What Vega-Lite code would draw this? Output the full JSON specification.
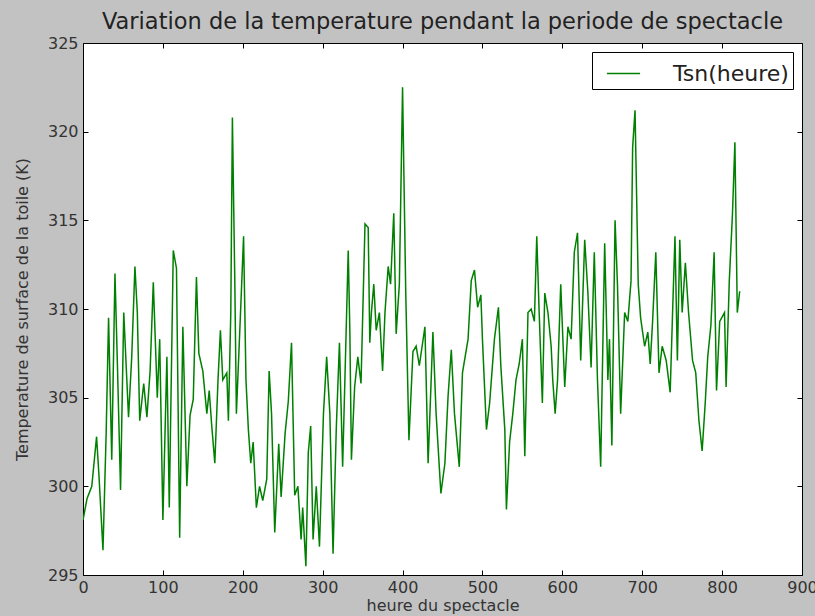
{
  "$schema": "https://vega.github.io/schema/vega-lite/v6.json",
  "width": 719,
  "height": 532,
  "autosize": {"type": "none"},
  "padding": {"left": 83, "top": 43, "right": 13, "bottom": 41},
  "background": "#c2c2c2",
  "config": {
    "font": "DejaVu Sans",
    "view": {"fill": "white", "stroke": "#000000", "strokeWidth": 1},
    "axis": {
      "grid": false,
      "domain": false,
      "ticks": true,
      "tickSize": -5,
      "tickColor": "#000000",
      "labelFont": "DejaVu Sans",
      "labelFontSize": 16,
      "labelColor": "#333333",
      "titleFont": "DejaVu Sans",
      "titleFontSize": 16,
      "titleFontWeight": "normal",
      "titleColor": "#333333",
      "labelFlush": false,
      "labelOverlap": false,
      "labelBound": false
    }
  },
  "title": {
    "text": "Variation de la temperature pendant la periode de spectacle",
    "font": "DejaVu Sans",
    "fontSize": 22.5,
    "fontWeight": "normal",
    "color": "#222222",
    "anchor": "middle",
    "offset": 2
  },
  "data": {
    "values": [
      {"heure": 0, "T": 298.1}, {"heure": 5, "T": 299.3}, {"heure": 11, "T": 300.0}, {"heure": 17, "T": 302.8},
      {"heure": 20, "T": 300.6}, {"heure": 25, "T": 296.4}, {"heure": 29, "T": 303.0}, {"heure": 32, "T": 309.5},
      {"heure": 36, "T": 301.5}, {"heure": 40, "T": 312.0}, {"heure": 43, "T": 307.0}, {"heure": 47, "T": 299.8},
      {"heure": 51, "T": 309.8}, {"heure": 57, "T": 303.9}, {"heure": 61, "T": 307.3}, {"heure": 65, "T": 312.4},
      {"heure": 68, "T": 309.8}, {"heure": 71, "T": 303.7}, {"heure": 76, "T": 305.8}, {"heure": 80, "T": 303.9},
      {"heure": 84, "T": 306.5}, {"heure": 88, "T": 311.5}, {"heure": 93, "T": 305.0}, {"heure": 96, "T": 308.3},
      {"heure": 100, "T": 298.1}, {"heure": 105, "T": 307.3}, {"heure": 108, "T": 298.8}, {"heure": 113, "T": 313.3},
      {"heure": 117, "T": 312.3}, {"heure": 121, "T": 297.1}, {"heure": 125, "T": 309.0}, {"heure": 130, "T": 300.0},
      {"heure": 134, "T": 304.0}, {"heure": 138, "T": 304.9}, {"heure": 142, "T": 311.8}, {"heure": 145, "T": 307.5},
      {"heure": 150, "T": 306.5}, {"heure": 155, "T": 304.1}, {"heure": 158, "T": 305.4}, {"heure": 161, "T": 303.5},
      {"heure": 165, "T": 301.3}, {"heure": 169, "T": 306.0}, {"heure": 172, "T": 308.8}, {"heure": 175, "T": 306.0},
      {"heure": 180, "T": 306.4}, {"heure": 182, "T": 303.7}, {"heure": 185, "T": 309.8}, {"heure": 187, "T": 320.8},
      {"heure": 190, "T": 311.6}, {"heure": 192, "T": 304.1}, {"heure": 198, "T": 310.7}, {"heure": 201, "T": 314.1},
      {"heure": 204, "T": 306.0}, {"heure": 207, "T": 303.2}, {"heure": 210, "T": 301.3}, {"heure": 213, "T": 302.5},
      {"heure": 217, "T": 298.8}, {"heure": 221, "T": 300.0}, {"heure": 225, "T": 299.2}, {"heure": 230, "T": 300.4},
      {"heure": 233, "T": 306.5}, {"heure": 236, "T": 304.1}, {"heure": 240, "T": 297.4}, {"heure": 245, "T": 302.4},
      {"heure": 248, "T": 299.4}, {"heure": 253, "T": 303.0}, {"heure": 257, "T": 304.8}, {"heure": 261, "T": 308.1},
      {"heure": 265, "T": 299.5}, {"heure": 269, "T": 300.0}, {"heure": 273, "T": 297.0}, {"heure": 275, "T": 298.8},
      {"heure": 279, "T": 295.5}, {"heure": 282, "T": 301.9}, {"heure": 285, "T": 303.4}, {"heure": 288, "T": 297.0},
      {"heure": 292, "T": 300.0}, {"heure": 296, "T": 296.6}, {"heure": 301, "T": 304.1}, {"heure": 305, "T": 307.3},
      {"heure": 309, "T": 304.1}, {"heure": 313, "T": 296.2}, {"heure": 317, "T": 303.2}, {"heure": 321, "T": 308.1},
      {"heure": 325, "T": 301.1}, {"heure": 330, "T": 309.8}, {"heure": 332, "T": 313.3}, {"heure": 334, "T": 308.8},
      {"heure": 336, "T": 301.5}, {"heure": 340, "T": 305.6}, {"heure": 344, "T": 307.3}, {"heure": 348, "T": 305.8},
      {"heure": 353, "T": 314.8}, {"heure": 357, "T": 314.6}, {"heure": 359, "T": 308.1}, {"heure": 361, "T": 309.8},
      {"heure": 364, "T": 311.4}, {"heure": 367, "T": 308.8}, {"heure": 371, "T": 309.8}, {"heure": 375, "T": 306.5},
      {"heure": 378, "T": 309.8}, {"heure": 382, "T": 312.4}, {"heure": 385, "T": 311.4}, {"heure": 389, "T": 315.4},
      {"heure": 392, "T": 308.6}, {"heure": 396, "T": 311.4}, {"heure": 400, "T": 322.5}, {"heure": 404, "T": 310.9},
      {"heure": 408, "T": 302.6}, {"heure": 413, "T": 307.6}, {"heure": 417, "T": 307.9}, {"heure": 421, "T": 306.8},
      {"heure": 428, "T": 309.0}, {"heure": 432, "T": 301.3}, {"heure": 438, "T": 308.7}, {"heure": 442, "T": 304.1},
      {"heure": 448, "T": 299.6}, {"heure": 453, "T": 301.3}, {"heure": 457, "T": 305.1}, {"heure": 461, "T": 307.7},
      {"heure": 465, "T": 304.1}, {"heure": 471, "T": 301.1}, {"heure": 475, "T": 306.4}, {"heure": 482, "T": 308.3},
      {"heure": 486, "T": 311.6}, {"heure": 490, "T": 312.2}, {"heure": 494, "T": 310.1}, {"heure": 498, "T": 310.8},
      {"heure": 500, "T": 308.3}, {"heure": 505, "T": 303.2}, {"heure": 509, "T": 304.7}, {"heure": 515, "T": 308.3},
      {"heure": 520, "T": 310.1}, {"heure": 523, "T": 306.8}, {"heure": 528, "T": 303.2}, {"heure": 530, "T": 298.7},
      {"heure": 534, "T": 302.5}, {"heure": 538, "T": 304.1}, {"heure": 542, "T": 306.0}, {"heure": 546, "T": 306.9},
      {"heure": 550, "T": 308.3}, {"heure": 553, "T": 301.7}, {"heure": 557, "T": 309.8}, {"heure": 561, "T": 310.0},
      {"heure": 565, "T": 309.3}, {"heure": 568, "T": 314.1}, {"heure": 571, "T": 309.8}, {"heure": 575, "T": 304.7},
      {"heure": 578, "T": 310.9}, {"heure": 582, "T": 309.8}, {"heure": 586, "T": 307.9}, {"heure": 588, "T": 306.0},
      {"heure": 591, "T": 304.1}, {"heure": 594, "T": 306.0}, {"heure": 598, "T": 311.4}, {"heure": 603, "T": 305.6},
      {"heure": 607, "T": 309.0}, {"heure": 611, "T": 308.3}, {"heure": 615, "T": 313.2}, {"heure": 619, "T": 314.3},
      {"heure": 623, "T": 307.1}, {"heure": 628, "T": 313.9}, {"heure": 632, "T": 310.9}, {"heure": 636, "T": 306.7},
      {"heure": 640, "T": 313.2}, {"heure": 644, "T": 306.0}, {"heure": 648, "T": 301.1}, {"heure": 653, "T": 313.7},
      {"heure": 657, "T": 306.0}, {"heure": 659, "T": 308.3}, {"heure": 662, "T": 302.3}, {"heure": 666, "T": 315.0},
      {"heure": 669, "T": 311.4}, {"heure": 673, "T": 304.1}, {"heure": 678, "T": 309.8}, {"heure": 682, "T": 309.3},
      {"heure": 686, "T": 311.6}, {"heure": 688, "T": 319.1}, {"heure": 691, "T": 321.2}, {"heure": 695, "T": 311.4},
      {"heure": 698, "T": 309.5}, {"heure": 703, "T": 307.9}, {"heure": 707, "T": 308.7}, {"heure": 710, "T": 306.9},
      {"heure": 713, "T": 309.3}, {"heure": 717, "T": 313.2}, {"heure": 721, "T": 306.4}, {"heure": 725, "T": 307.9},
      {"heure": 730, "T": 307.1}, {"heure": 735, "T": 305.3}, {"heure": 738, "T": 309.8}, {"heure": 741, "T": 314.1},
      {"heure": 744, "T": 307.1}, {"heure": 747, "T": 313.9}, {"heure": 750, "T": 309.8}, {"heure": 754, "T": 312.6},
      {"heure": 758, "T": 309.8}, {"heure": 763, "T": 307.1}, {"heure": 767, "T": 306.4}, {"heure": 771, "T": 303.7},
      {"heure": 775, "T": 302.0}, {"heure": 779, "T": 304.8}, {"heure": 782, "T": 307.3}, {"heure": 786, "T": 309.1},
      {"heure": 790, "T": 313.2}, {"heure": 793, "T": 305.4}, {"heure": 797, "T": 309.3}, {"heure": 803, "T": 309.8},
      {"heure": 805, "T": 305.6}, {"heure": 809, "T": 311.6}, {"heure": 813, "T": 315.4}, {"heure": 816, "T": 319.4},
      {"heure": 819, "T": 309.8}, {"heure": 822, "T": 311.0}
    ]
  },
  "layer": [
    {
      "mark": {"type": "line", "strokeWidth": 1.5, "clip": true},
      "encoding": {
        "x": {
          "field": "heure", "type": "quantitative",
          "scale": {"domain": [0, 900], "nice": false, "zero": false},
          "axis": {"title": "heure du spectacle", "values": [0,100,200,300,400,500,600,700,800,900], "labelPadding": 9, "titlePadding": 2}
        },
        "y": {
          "field": "T", "type": "quantitative",
          "scale": {"domain": [295, 325], "nice": false, "zero": false},
          "axis": {"title": "Temperature de surface de la toile (K)", "values": [295,300,305,310,315,320,325], "labelPadding": 10, "titlePadding": 17}
        },
        "color": {
          "datum": "Tsn(heure)",
          "type": "nominal",
          "scale": {"range": ["#008000"]},
          "legend": {
            "title": null,
            "orient": "top-right",
            "offset": 9,
            "symbolType": "stroke",
            "symbolSize": 1100,
            "symbolStrokeWidth": 1.5,
            "symbolOffset": 10,
            "labelFont": "DejaVu Sans",
            "labelFontSize": 22,
            "labelColor": "#222222",
            "labelOffset": 32,
            "strokeColor": "#000000",
            "fillColor": "#ffffff",
            "padding": 4
          }
        }
      }
    },
    {
      "mark": {"type": "line", "opacity": 0},
      "encoding": {
        "x": {
          "field": "heure", "type": "quantitative",
          "scale": {"domain": [0, 900], "nice": false, "zero": false},
          "axis": {"orient": "top", "title": null, "labels": false, "values": [0,100,200,300,400,500,600,700,800,900]}
        },
        "y": {
          "field": "T", "type": "quantitative",
          "scale": {"domain": [295, 325], "nice": false, "zero": false},
          "axis": {"orient": "right", "title": null, "labels": false, "values": [295,300,305,310,315,320,325]}
        }
      }
    }
  ],
  "resolve": {"axis": {"x": "independent", "y": "independent"}}
}
